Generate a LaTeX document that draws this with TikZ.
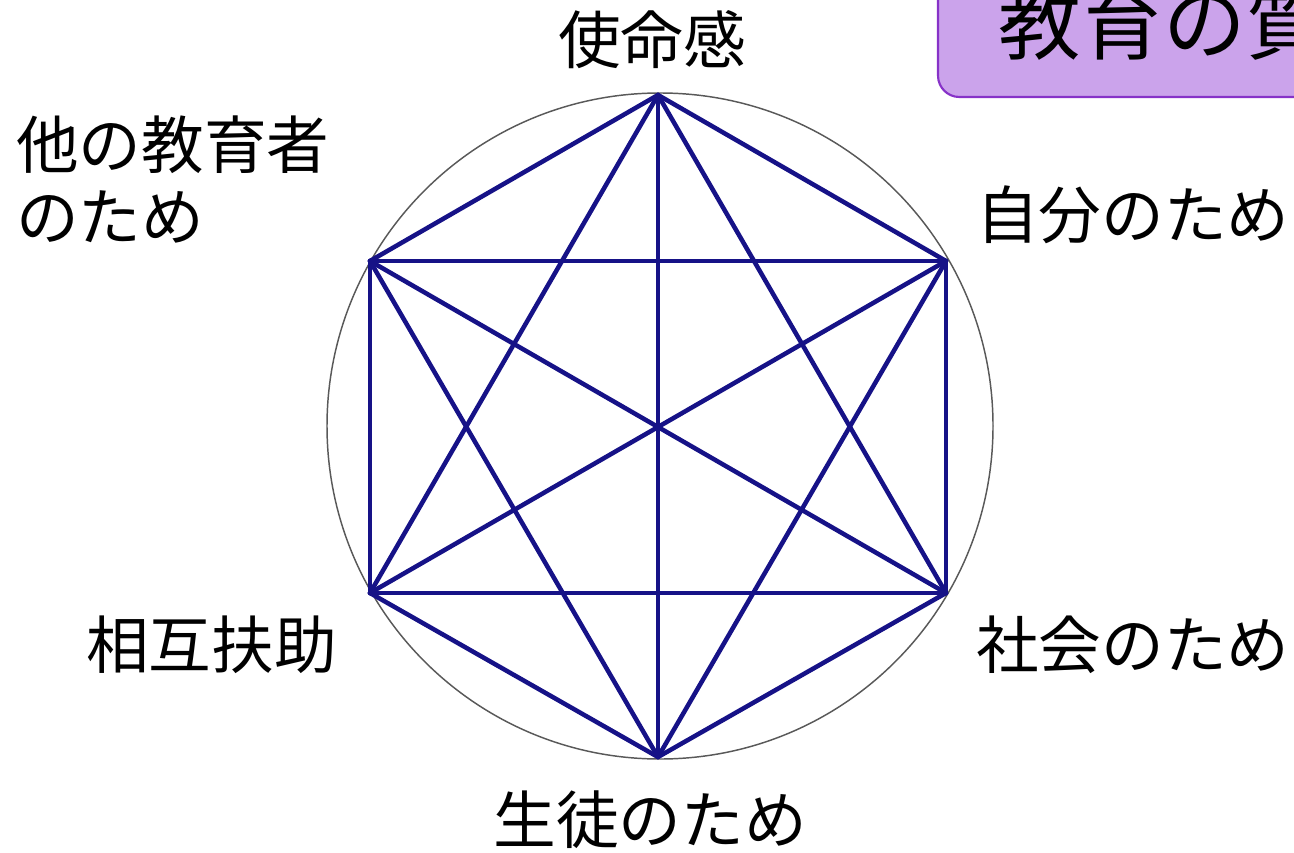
\documentclass[tikz,border=0pt]{standalone}
\usepackage{fontspec}
\newfontfamily\jp{Noto Sans CJK JP}
\definecolor{edgeblue}{RGB}{22,18,135}
\definecolor{boxfill}{RGB}{203,163,235}
\definecolor{boxdraw}{RGB}{135,50,200}
\begin{document}
\begin{tikzpicture}[x=0.75pt,y=-0.75pt,
  lbl/.style={font=\jp\fontsize{47}{54}\selectfont, inner sep=0pt, text=black},
  edge/.style={draw=edgeblue, line width=3.4pt, line cap=round, line join=round},
  ring/.style={draw=black!65, line width=1.1pt}]
\useasboundingbox (0,0) rectangle (1294,852);
\clip (0,0) rectangle (1294,852);
% title box (cut off)
\draw[fill=boxfill, draw=boxdraw, line width=1.6pt, rounded corners=16pt] (938,-40) rectangle (1340,97);
\node[lbl, anchor=west, font=\jp\fontsize{62}{70}\selectfont] (title) at (998,22) {教育の質};
% circle
\draw[ring] (660,426) circle [radius=333];
% vertices
\coordinate (v1) at (658,95);
\coordinate (v2) at (946,261);
\coordinate (v3) at (946,593);
\coordinate (v4) at (658,757);
\coordinate (v5) at (370,593);
\coordinate (v6) at (370,261);
\foreach \i in {1,...,6}{
  \foreach \j in {1,...,6}{
    \ifnum\i<\j \draw[edge] (v\i) -- (v\j); \fi
  }
}
% labels
\node[lbl] (a) at (652,40) {使命感};
\node[lbl, anchor=west] (b) at (976,215) {自分のため};
\node[lbl, anchor=west] (c) at (976,645) {社会のため};
\node[lbl] (d) at (650,820) {生徒のため};
\node[lbl, anchor=west] (e) at (86,645) {相互扶助};
\node[lbl, anchor=west, align=left] (f) at (16,180) {他の教育者\\のため};
\end{tikzpicture}
\end{document}
